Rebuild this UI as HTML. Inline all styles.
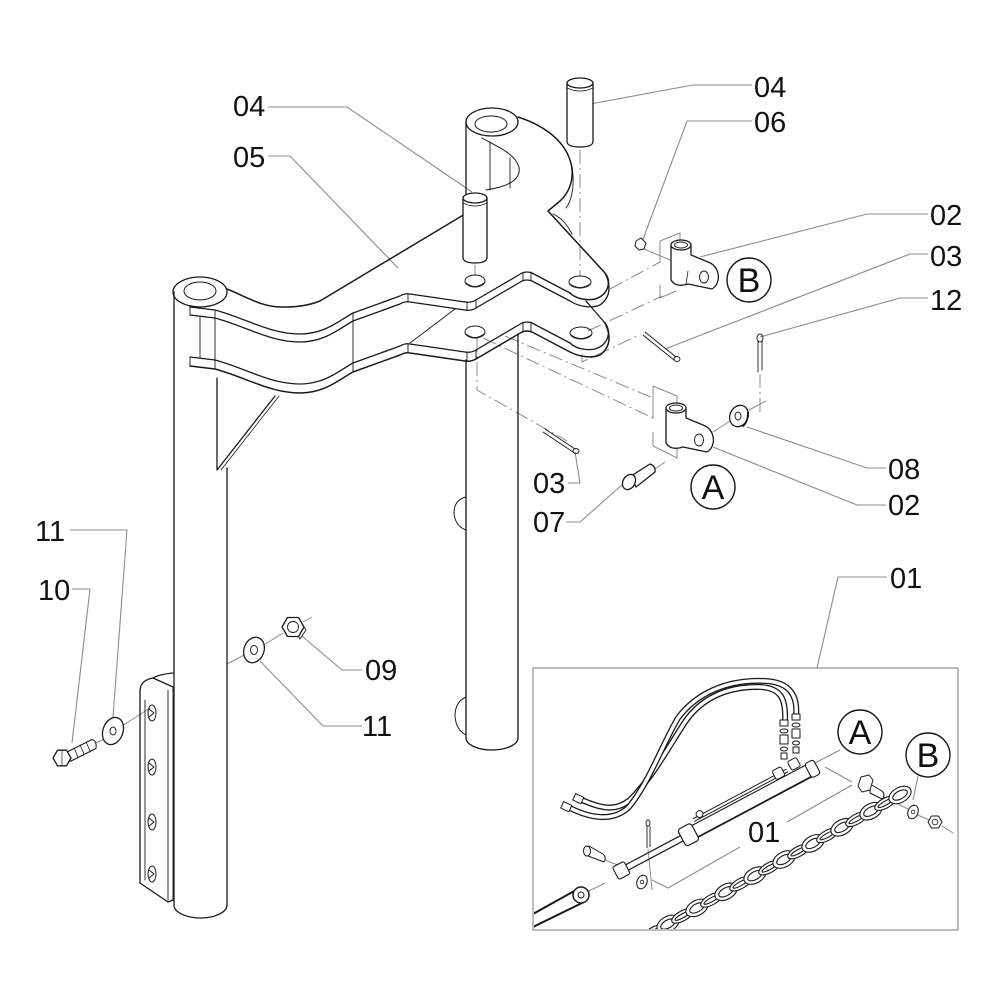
<!DOCTYPE html>
<html><head><meta charset="utf-8">
<style>
html,body{margin:0;padding:0;background:#fff;}
svg{display:block;}
.t{font-family:"Liberation Sans",Arial,sans-serif;font-size:29px;fill:#111;}
.c{font-family:"Liberation Sans",Arial,sans-serif;font-size:34px;fill:#111;}
</style></head><body>
<svg width="1000" height="1000" viewBox="0 0 1000 1000" xmlns="http://www.w3.org/2000/svg">
<rect width="1000" height="1000" fill="#fff"/>

<!-- ===== leader lines (gray) ===== -->
<g fill="none" stroke="#8c8c8c" stroke-width="1.1">
  <path d="M268,107 H347 L472,192"/>
  <path d="M268,156 H290 L398,268"/>
  <path d="M752,85 H693 L585,105"/>
  <path d="M752,121 H687 L642,242"/>
  <path d="M928,214 H867 L700,257"/>
  <path d="M928,254 H910 L665,349"/>
  <path d="M928,298 H900 L760,337"/>
  <path d="M886,468 H867 L747,427"/>
  <path d="M886,505 H857 L713,447"/>
  <path d="M568,483 H580 L575,452"/>
  <path d="M566,522 H580 L623,484"/>
  <path d="M887,577 H838 L817,668"/>
  <path d="M70,530 H127 L113,717"/>
  <path d="M72,589 H90 L72,743"/>
  <path d="M362,670 H342 L302,636"/>
  <path d="M362,726 H323 L260,661"/>
  <!-- inset -->
  <path d="M825,767 L852,782 M852,785 L787,822"/>
  <path d="M740,847 L668,888 L652,880"/>
  <path d="M840,750 L815,763"/>
  <path d="M918,776 L913,800"/>
</g>

<!-- ===== dash-dot / axis lines ===== -->
<g fill="none" stroke="#8c8c8c" stroke-width="1" stroke-dasharray="14 4 2 4">
  <path d="M580,150 V276"/>
  <path d="M475,265 V276"/>
  <path d="M610,289 L660,262"/>
  <path d="M588,331 L662,296"/>
  <path d="M582,354 V362 L637,336"/>
  <path d="M483,338 L653,418"/>
  <path d="M505,336 L653,398"/>
  <path d="M477,338 V390 L567,441"/>
  <path d="M760,374 V413"/>
  <path d="M655,469 L665,462"/>
</g>
<g fill="none" stroke="#8c8c8c" stroke-width="1">
  <path d="M653,386 V419 M653,432 V446 L677,458 V396 L653,386"/>
  <path d="M660,241 V262 M660,285 V298 L676,291 M660,241 L680,233 V244"/>
  <path d="M713,432 L730,421 M749,410 L766,401"/>
  <path d="M644,249 L670,260"/>
  <path d="M96,743 L104,739 M122,726 L150,708"/>
  <path d="M227,664 L246,654 M262,646 L283,633 M303,622 L312,617"/>
  <path d="M648,849 L652,890"/>
  <path d="M605,860 L620,866"/>
  <path d="M884,797 L908,809 M918,815 L929,820 M942,826 L953,833"/>
  <path d="M585,893 L605,883"/>
</g>

<!-- ===== main structure ===== -->
<g fill="none" stroke="#1a1a1a" stroke-width="1.3" stroke-linejoin="round" stroke-linecap="round">
  <!-- left tube -->
  <ellipse cx="200" cy="292" rx="27" ry="15" fill="#fff"/>
  <ellipse cx="200" cy="291" rx="16" ry="9" stroke-width="1"/>
  <path d="M174,292 V905"/>
  <path d="M227,468 V905"/>
  <path d="M174,905 A26.5,13 0 0 0 227,905"/>

  <!-- right tube -->
  <ellipse cx="492" cy="122" rx="26" ry="14" fill="#fff"/>
  <ellipse cx="491" cy="124" rx="16" ry="8" stroke-width="1"/>
  <path d="M466,122 V214"/>
  <path d="M466,360 V738"/>
  <path d="M518,334 V738"/>
  <path d="M466,738 A26,12 0 0 0 518,738"/>
  <path d="M466,497 Q454,500 454,513 Q455,526 466,530" stroke-width="1"/>
  <path d="M466,697 Q455,702 455,716 Q456,730 466,735" stroke-width="1"/>

  <path d="M482,138 C500,148 515,154 519,167 C521,178 512,186 486,190" stroke-width="1"/>
  <path d="M490,142 V190 M510,158 V188" stroke-width="0.9"/>

  <!-- gusset -->
  <path d="M217,378 V470 L275,396"/>
  <path d="M221,470 L279,396" stroke-width="0.8"/>

  <!-- upper plate back edge -->
  <path d="M227,289 C245,296 262,308 285,307 C300,307 310,305 320,301 L465,214" stroke-width="1.5"/>
  <path d="M518,117 C540,124 560,137 568,155 C576,172 572,190 560,201 L548,211 L605,273 C612,282 608,295 595,299 C585,301 575,298 570,293" stroke-width="1.5"/>
  <path d="M572,166 C575,185 572,200 566,208 M553,214 C562,218 568,226 572,234" stroke-width="0.9"/>
  <path d="M605,273 C611,285 611,297 600,305 C590,309 578,306 570,301"/>

  <path d="M190,307 L215,310 C245,318 270,334 300,334 C325,334 340,320 353,313 L400,296 Q405,293 410,294 L465,302 Q471,303 476,300 L522,273 Q527,271 532,273 L570,293"/>
  <path d="M190,315 L215,318 C245,326 270,342 300,342 C325,342 340,328 353,321 L400,304 Q405,301 410,302 L465,310 Q471,311 476,308 L522,281 Q527,279 532,281 L570,301"/>
  <path d="M190,307 V315 M215,310 V318 M353,313 V321 M408,294 V302 M467,302 V310 M476,300 V308 M523,273 V281 M531,272 V280" stroke-width="0.9"/>

  <path d="M200,316 V358 M215,318 V360 M353,321 V363" stroke-width="0.9"/>
  <path d="M455,309 L410,343" stroke-width="0.9"/>

  <path d="M190,357 L215,360 C245,368 270,384 300,384 C325,384 340,370 353,363 L400,346 Q405,343 410,344 L465,352 Q471,353 476,350 L522,323 Q527,321 532,323 L570,343"/>
  <path d="M190,366 L215,369 C245,377 270,393 300,393 C325,393 340,379 353,372 L400,355 Q405,352 410,353 L465,361 Q471,362 476,359 L522,332 Q527,330 532,332 L570,352" stroke-width="1.5"/>
  <path d="M190,357 V366 M215,360 V369 M353,363 V372 M408,344 V353 M467,352 V361 M476,350 V359 M523,323 V332 M531,322 V331" stroke-width="0.9"/>
  <path d="M586,301 L605,323 C612,332 608,345 595,349 C585,351 575,348 570,343"/>
  <path d="M605,323 C611,335 611,347 600,355 C590,359 578,356 570,352" stroke-width="1.5"/>

  <!-- holes -->
  <ellipse cx="475" cy="281" rx="10" ry="6" stroke-width="1"/>
  <path d="M466,283 Q475,290 484,283" stroke-width="0.8"/>
  <ellipse cx="580" cy="282" rx="11" ry="6" stroke-width="1"/>
  <path d="M570,284 Q580,291 590,284" stroke-width="0.8"/>
  <ellipse cx="475" cy="332" rx="10" ry="6" stroke-width="1"/>
  <path d="M466,334 Q475,341 484,334" stroke-width="0.8"/>
  <ellipse cx="581" cy="333" rx="11" ry="6" stroke-width="1"/>
  <path d="M571,335 Q581,342 591,335" stroke-width="0.8"/>

  <!-- pin 04 left -->
  <path d="M463,198 V258 Q464,263 475,263 Q486,263 487,258 V198 Z" fill="#fff"/>
  <ellipse cx="475" cy="198" rx="12" ry="5" fill="#fff"/>
  <path d="M463,203 Q475,209 487,203" stroke-width="0.8"/>
  <!-- pin 04 right -->
  <path d="M567,83 V142 Q568,147 580,147 Q592,147 593,142 V83 Z" fill="#fff"/>
  <ellipse cx="580" cy="83" rx="13" ry="5" fill="#fff"/>
  <path d="M567,88 Q580,94 593,88" stroke-width="0.8"/>

  <!-- bracket B (02) -->
  <path d="M671,245 V280 Q676,288 688,284 L712,289 C722,283 720,266 708,262 L691,255 V245 Z" fill="#fff"/>
  <ellipse cx="681" cy="245" rx="10" ry="5" fill="#fff"/>
  <ellipse cx="681" cy="245" rx="6.5" ry="3" stroke-width="0.9"/>
  <ellipse cx="704" cy="277" rx="4.5" ry="6" stroke-width="1"/>
  <path d="M686,284 L688,271" stroke-width="0.8"/>
  <path d="M636,241 L641,238 L646,243 L644,249 L639,250 L635,246 Z" fill="#fff" stroke-width="1"/>

  <!-- bracket A (02) -->
  <path d="M666,408 V443 Q671,451 683,447 L707,452 C717,446 715,429 703,425 L686,418 V408 Z" fill="#fff"/>
  <ellipse cx="676" cy="408" rx="10" ry="5" fill="#fff"/>
  <ellipse cx="676" cy="408" rx="6.5" ry="3" stroke-width="0.9"/>
  <ellipse cx="699" cy="440" rx="4.5" ry="6" stroke-width="1"/>

  <!-- washer 08 -->
  <ellipse cx="739" cy="416" rx="9" ry="11" transform="rotate(25 739 416)" fill="#fff"/>
  <ellipse cx="738" cy="416" rx="3" ry="4" stroke-width="0.9"/>
  <path d="M743,426 Q748,422 748,412" stroke-width="1.8"/>

  <!-- cotter pins -->
  <path d="M645,332 L676,357 M643,335 L674,360" stroke-width="0.9"/>
  <ellipse cx="677" cy="359" rx="3" ry="2.5" stroke-width="0.9"/>
  <path d="M545,429 L575,449 M543,432 L573,452" stroke-width="0.9"/>
  <ellipse cx="576" cy="451" rx="3" ry="2.5" stroke-width="0.9"/>
  <path d="M758,341 V372 M762,341 V370" stroke-width="0.9"/>
  <ellipse cx="760" cy="338" rx="3" ry="4" stroke-width="0.9"/>

  <!-- pin 07 -->
  <path d="M631,476 L650,464 Q656,466 655,472 L636,487 Z" fill="#fff"/>
  <ellipse cx="629" cy="482" rx="6" ry="8" transform="rotate(30 629 482)" fill="#fff"/>

  <!-- left bracket -->
  <path d="M140,883 V690 Q141,680 153,678 L173,687 M153,678 Q160,674 174,673" />
  <path d="M145,700 V880 M168,690 V900 M173,688 V900" stroke-width="0.9"/>
  <path d="M140,883 L168,902 L173,900"/>
  <g stroke-width="1">
    <ellipse cx="152" cy="713" rx="4" ry="8"/><path d="M149,709 L154,713 L149,717"/>
    <ellipse cx="152" cy="767" rx="4" ry="8"/><path d="M149,763 L154,767 L149,771"/>
    <ellipse cx="152" cy="822" rx="4" ry="8"/><path d="M149,818 L154,822 L149,826"/>
    <ellipse cx="152" cy="874" rx="4" ry="8"/><path d="M149,870 L154,874 L149,878"/>
  </g>

  <!-- bolt 10 -->
  <path d="M66,752.5 L92,739.5 Q97,741 96,748.5 L70,761.5 Z" fill="#fff" stroke-width="1"/>
  <path d="M74,748 Q77,754 78,758 M80,745 Q83,751 84,755 M86,742 Q89,748 90,752" stroke-width="0.8"/>
  <path d="M71,758 L66.5,765.8 L57.5,765.8 L53,758 L57.5,750.2 L66.5,750.2 Z" fill="#fff"/>
  <path d="M62,750.5 V765.5" stroke-width="0.7"/>
  <ellipse cx="113" cy="731" rx="10" ry="14" transform="rotate(20 113 731)" fill="#fff"/>
  <ellipse cx="113" cy="731" rx="3" ry="4" stroke-width="0.9"/>
  <ellipse cx="254" cy="650" rx="10" ry="13" transform="rotate(20 254 650)" fill="#fff"/>
  <ellipse cx="254" cy="650" rx="3.5" ry="4.5" stroke-width="0.9"/>
  <path d="M304,627 L298.5,636.5 L287.5,636.5 L282,627 L287.5,617.5 L298.5,617.5 Z" fill="#fff"/>
  <path d="M304,627 L306,630 L300,639 L298.5,636.5" stroke-width="0.9"/>
  <circle cx="293" cy="627" r="5.5" stroke-width="0.9"/>
</g>

<!-- ===== circle callouts ===== -->
<g fill="none" stroke="#1a1a1a" stroke-width="1.4">
  <circle cx="749" cy="280" r="22"/>
  <circle cx="713" cy="487" r="22"/>
  <circle cx="860" cy="732" r="22"/>
  <circle cx="928" cy="755" r="22"/>
</g>
<text class="c" x="749" y="292" text-anchor="middle">B</text>
<text class="c" x="713" y="499" text-anchor="middle">A</text>
<text class="c" x="860" y="744" text-anchor="middle">A</text>
<text class="c" x="928" y="767" text-anchor="middle">B</text>

<!-- ===== inset ===== -->
<rect x="533" y="668" width="425" height="262" fill="none" stroke="#888" stroke-width="1.1"/>
<clipPath id="box"><rect x="534" y="669" width="423" height="260"/></clipPath>
<g clip-path="url(#box)" fill="none" stroke="#1a1a1a" stroke-linejoin="round">
  <!-- chain -->
  <g stroke-width="1.1">
    <g transform="translate(654,932) rotate(-29)"><ellipse rx="12" ry="5" fill="#fff"/><ellipse rx="8.5" ry="2"/></g>
    <g transform="translate(668,924) rotate(-29)"><ellipse rx="12" ry="7.5" fill="#fff"/><ellipse rx="8" ry="4"/></g>
    <g transform="translate(682.5,915.9) rotate(-29)"><ellipse rx="12" ry="5" fill="#fff"/><ellipse rx="8.5" ry="2"/></g>
    <g transform="translate(697,907.9) rotate(-29)"><ellipse rx="12" ry="7.5" fill="#fff"/><ellipse rx="8" ry="4"/></g>
    <g transform="translate(711.5,899.8) rotate(-29)"><ellipse rx="12" ry="5" fill="#fff"/><ellipse rx="8.5" ry="2"/></g>
    <g transform="translate(726,891.8) rotate(-29)"><ellipse rx="12" ry="7.5" fill="#fff"/><ellipse rx="8" ry="4"/></g>
    <g transform="translate(740.5,883.7) rotate(-29)"><ellipse rx="12" ry="5" fill="#fff"/><ellipse rx="8.5" ry="2"/></g>
    <g transform="translate(755,875.6) rotate(-29)"><ellipse rx="12" ry="7.5" fill="#fff"/><ellipse rx="8" ry="4"/></g>
    <g transform="translate(769.5,867.6) rotate(-29)"><ellipse rx="12" ry="5" fill="#fff"/><ellipse rx="8.5" ry="2"/></g>
    <g transform="translate(784,859.5) rotate(-29)"><ellipse rx="12" ry="7.5" fill="#fff"/><ellipse rx="8" ry="4"/></g>
    <g transform="translate(798.5,851.5) rotate(-29)"><ellipse rx="12" ry="5" fill="#fff"/><ellipse rx="8.5" ry="2"/></g>
    <g transform="translate(813,843.4) rotate(-29)"><ellipse rx="12" ry="7.5" fill="#fff"/><ellipse rx="8" ry="4"/></g>
    <g transform="translate(827.5,835.3) rotate(-29)"><ellipse rx="12" ry="5" fill="#fff"/><ellipse rx="8.5" ry="2"/></g>
    <g transform="translate(842,827.3) rotate(-29)"><ellipse rx="12" ry="7.5" fill="#fff"/><ellipse rx="8" ry="4"/></g>
    <g transform="translate(856.5,819.2) rotate(-29)"><ellipse rx="12" ry="5" fill="#fff"/><ellipse rx="8.5" ry="2"/></g>
    <g transform="translate(871,811.2) rotate(-29)"><ellipse rx="12" ry="7.5" fill="#fff"/><ellipse rx="8" ry="4"/></g>
    <g transform="translate(885.5,803.1) rotate(-29)"><ellipse rx="12" ry="5" fill="#fff"/><ellipse rx="8.5" ry="2"/></g>
    <g transform="translate(900,795) rotate(-29)"><ellipse rx="12" ry="7.5" fill="#fff"/><ellipse rx="8" ry="4"/></g>
  </g>

  <!-- hoses -->
  <path d="M785,722 C786,700 782,688 760,687 C725,686 700,700 685,722 C668,748 652,778 630,800 C615,812 600,808 582,800" stroke-width="6"/>
  <path d="M785,722 C786,700 782,688 760,687 C725,686 700,700 685,722 C668,748 652,778 630,800 C615,812 600,808 582,800" stroke="#fff" stroke-width="3.4"/>
  <path d="M796,716 C798,696 790,682 765,681 C725,679 695,695 678,718 C662,745 648,785 628,808 C612,822 590,818 570,808" stroke-width="6"/>
  <path d="M796,716 C798,696 790,682 765,681 C725,679 695,695 678,718 C662,745 648,785 628,808 C612,822 590,818 570,808" stroke="#fff" stroke-width="3.4"/>
  <g stroke-width="1" fill="#fff">
    <rect x="574" y="795" width="9" height="7" transform="rotate(25 578 798)"/>
    <rect x="562" y="803" width="9" height="7" transform="rotate(25 566 806)"/>
  </g>
  <g stroke-width="1" fill="#fff">
    <rect x="780" y="720" width="8" height="6"/>
    <ellipse cx="784" cy="731" rx="4" ry="2"/>
    <rect x="780" y="735" width="8" height="9"/>
    <ellipse cx="784" cy="749" rx="3.5" ry="2"/>
    <rect x="781" y="753" width="6" height="6"/>
    <rect x="792" y="714" width="8" height="6"/>
    <ellipse cx="796" cy="725" rx="4" ry="2"/>
    <rect x="792" y="729" width="8" height="9"/>
    <ellipse cx="796" cy="743" rx="3.5" ry="2"/>
    <rect x="793" y="747" width="6" height="6"/>
  </g>

  <!-- cylinder -->
  <g transform="translate(688,835) rotate(-28)">
    <rect x="0" y="-6.5" width="138" height="13" fill="#fff" stroke-width="1.1"/>
    <path d="M0,6.5 H138" stroke-width="1.8"/>
    <path d="M12,-12 H118 M12,-9 H118" stroke-width="1"/>
    <circle cx="20" cy="-13" r="3.5" fill="#fff" stroke-width="1"/>
    <path d="M-70,-3 H-6 M-70,3 H-6" stroke-width="1.2"/>
    <rect x="-7" y="-9.5" width="15" height="19" rx="3" fill="#fff" stroke-width="1.2"/>
    <rect x="-82" y="-7" width="13" height="14" rx="2" fill="#fff" stroke-width="1.1"/>
    <rect x="136" y="-8" width="10" height="16" rx="3" fill="#fff" stroke-width="1.1"/>
    <rect x="104" y="-17" width="10" height="10" rx="2" fill="#fff" stroke-width="1"/>
    <rect x="122" y="-18" width="10" height="10" rx="2" fill="#fff" stroke-width="1"/>
  </g>

  <path d="M647,826 V848 M650,826 V847" stroke-width="0.9"/>
  <ellipse cx="648" cy="823" rx="2" ry="3" stroke-width="0.9"/>
  <path d="M589,846 L603,854 Q607,858 604,862 L588,856 Z" fill="#fff" stroke-width="1"/>
  <ellipse cx="587" cy="851" rx="3.5" ry="5" fill="#fff" stroke-width="1"/>
  <ellipse cx="642" cy="882" rx="5" ry="7" transform="rotate(20 642 882)" fill="#fff" stroke-width="1"/>
  <circle cx="642" cy="882" r="1.8" stroke-width="0.8"/>

  <path d="M533,914 L576,890 M533,927 L584,902" stroke-width="2"/>
  <circle cx="581" cy="895" r="8" fill="#fff" stroke-width="1.5"/>
  <circle cx="581" cy="895" r="3" stroke-width="1"/>

  <path d="M870,784 L882,791 Q886,795 882,799 L870,793 Z" fill="#fff" stroke-width="1"/>
  <path d="M873,780 L870,790 L862,792 L858,786 L861,777 L869,775 Z" fill="#fff" stroke-width="1"/>
  <ellipse cx="913" cy="812" rx="5" ry="7" transform="rotate(20 913 812)" fill="#fff" stroke-width="1"/>
  <circle cx="913" cy="812" r="1.8" stroke-width="0.8"/>
  <path d="M942,822 L938.5,828 L931.5,828 L928,822 L931.5,816 L938.5,816 Z" fill="#fff" stroke-width="1"/>
  <circle cx="935" cy="822" r="2.8" stroke-width="0.8"/>
</g>

<!-- ===== labels ===== -->
<text class="t" x="233" y="116">04</text>
<text class="t" x="233" y="167">05</text>
<text class="t" x="754" y="97">04</text>
<text class="t" x="754" y="132">06</text>
<text class="t" x="930" y="225">02</text>
<text class="t" x="930" y="266">03</text>
<text class="t" x="930" y="310">12</text>
<text class="t" x="888" y="479">08</text>
<text class="t" x="888" y="515">02</text>
<text class="t" x="533" y="493">03</text>
<text class="t" x="533" y="532">07</text>
<text class="t" x="890" y="588">01</text>
<text class="t" x="35" y="541">11</text>
<text class="t" x="38" y="600">10</text>
<text class="t" x="365" y="680">09</text>
<text class="t" x="362" y="736">11</text>
<text class="t" x="748" y="842">01</text>
</svg>
</body></html>
